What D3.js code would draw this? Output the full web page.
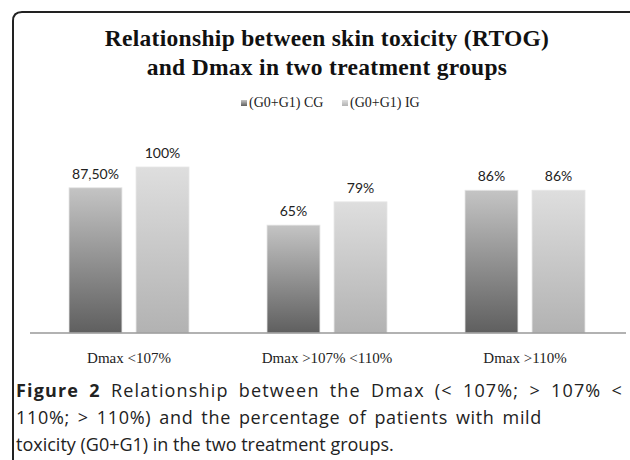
<!DOCTYPE html>
<html>
<head>
<meta charset="utf-8">
<script src="https://cdn.jsdelivr.net/npm/d3@7"></script>
<style>
  body { margin: 0; background: #fff; }
</style>
</head>
<body>
<div id="chart"></div>
<script>
const width = 630;
const height = 460;

const categories = ["Dmax <107%", "Dmax >107% <110%", "Dmax >110%"];
const seriesNames = ["(G0+G1) CG", "(G0+G1) IG"];
const cgValues = [87.5, 65, 86];
const igValues = [100, 79, 86];
const cgLabels = ["87,50%", "65%", "86%"];
const igLabels = ["100%", "79%", "86%"];
const titleLines = ["Relationship between skin toxicity (RTOG)", "and Dmax in two treatment groups"];
const captionLines = [
    ["Figure 2", " Relationship between the Dmax (< 107%; > 107% <"],
    ["", "110%; > 110%) and the percentage of patients with mild"],
    ["", "toxicity (G0+G1) in the two treatment groups."]
];

const svg = d3.select("#chart")
    .append("svg")
    .attr("width", width)
    .attr("height", height);

// gradients for the bars
const defs = svg.append("defs");
const gradStops = [["#c4c4c4", "#5f5f5f"], ["#dedede", "#b2b2b2"]];
gradStops.forEach((s, i) => {
    const g = defs.append("linearGradient")
        .attr("id", "grad" + i)
        .attr("x1", 0).attr("y1", 0).attr("x2", 0).attr("y2", 1);
    g.append("stop").attr("offset", "0%").attr("stop-color", s[0]);
    g.append("stop").attr("offset", "100%").attr("stop-color", s[1]);
});

// frame (top and left edge with rounded corner)
svg.append("path")
    .attr("d", "M13,460 L13,21 Q13,12 22,12 L630,12")
    .attr("fill", "none")
    .attr("stroke", "#222")
    .attr("stroke-width", 2);

// title
svg.selectAll(".title")
    .data(titleLines)
    .enter()
    .append("text")
    .attr("class", "title")
    .attr("x", 327)
    .attr("y", (d, i) => 46 + i * 29)
    .attr("text-anchor", "middle")
    .style("font-family", "'Liberation Serif', serif")
    .style("font-weight", "bold")
    .style("font-size", "23.5px")
    .style("letter-spacing", "0.3px")
    .style("fill", "#111")
    .text(d => d);

// legend
const legendX = [241, 342];
const legend = svg.selectAll(".legend")
    .data(seriesNames)
    .enter()
    .append("g")
    .attr("class", "legend")
    .attr("transform", (d, i) => `translate(${legendX[i]},100)`);
legend.append("rect")
    .attr("width", 6)
    .attr("height", 6)
    .attr("fill", (d, i) => `url(#grad${i})`);
legend.append("text")
    .attr("x", 8)
    .attr("y", 7)
    .style("font-family", "'Liberation Serif', serif")
    .style("font-size", "14px")
    .style("fill", "#222")
    .text(d => d);

// scales
const x0 = d3.scaleBand()
    .domain(categories)
    .range([30, 624]);

const groupW = 120;
const x1 = d3.scaleBand()
    .domain([0, 1])
    .range([(x0.bandwidth() - groupW) / 2, (x0.bandwidth() + groupW) / 2])
    .paddingInner(0.21);

const y = d3.scaleLinear()
    .domain([0, 100])
    .range([333, 167]);

const data = [];
categories.forEach((c, i) => {
    data.push({ cat: c, s: 0, v: cgValues[i], label: cgLabels[i] });
    data.push({ cat: c, s: 1, v: igValues[i], label: igLabels[i] });
});

// bars
svg.selectAll(".bar")
    .data(data)
    .enter()
    .append("rect")
    .attr("class", "bar")
    .attr("x", d => x0(d.cat) + x1(d.s))
    .attr("y", d => y(d.v))
    .attr("width", x1.bandwidth())
    .attr("height", d => y(0) - y(d.v))
    .attr("fill", d => `url(#grad${d.s})`)
    .attr("stroke", "#e6e6e6")
    .attr("stroke-width", 0.8);

// value labels
svg.selectAll(".val")
    .data(data)
    .enter()
    .append("text")
    .attr("class", "val")
    .attr("x", d => x0(d.cat) + x1(d.s) + x1.bandwidth() / 2)
    .attr("y", d => y(d.v) - 9)
    .attr("text-anchor", "middle")
    .style("font-family", "Lato, sans-serif")
    .style("font-size", "14px")
    .style("fill", "#222")
    .text(d => d.label);

// baseline
svg.append("line")
    .attr("x1", 30)
    .attr("x2", 626)
    .attr("y1", y(0))
    .attr("y2", y(0))
    .attr("stroke", "#999")
    .attr("stroke-width", 1.5);

// category labels
svg.selectAll(".cat")
    .data(categories)
    .enter()
    .append("text")
    .attr("class", "cat")
    .attr("x", d => x0(d) + x0.bandwidth() / 2)
    .attr("y", 363)
    .attr("text-anchor", "middle")
    .style("font-family", "'Liberation Serif', serif")
    .style("font-size", "15px")
    .style("fill", "#222")
    .text(d => d);

// caption (first two lines are stretched like justified text)
const capWidths = [607, 526, null];
const cap = svg.selectAll(".cap")
    .data(captionLines)
    .enter()
    .append("text")
    .attr("class", "cap")
    .attr("x", 16)
    .attr("y", (d, i) => 397 + i * 27)
    .style("font-family", "'Open Sans', sans-serif")
    .style("font-size", "18px")
    .style("fill", "#222");
cap.append("tspan")
    .style("font-weight", "bold")
    .text(d => d[0]);
cap.append("tspan")
    .text(d => d[1]);
cap.each(function (d, i) {
    if (!capWidths[i]) return;
    const txt = d[0] + d[1];
    const extra = capWidths[i] - this.getComputedTextLength();
    const spaces = txt.split(" ").length - 1;
    d3.select(this)
        .style("word-spacing", (extra * 0.4 / spaces) + "px")
        .style("letter-spacing", (extra * 0.6 / txt.length) + "px");
});
</script>
</body>
</html>
